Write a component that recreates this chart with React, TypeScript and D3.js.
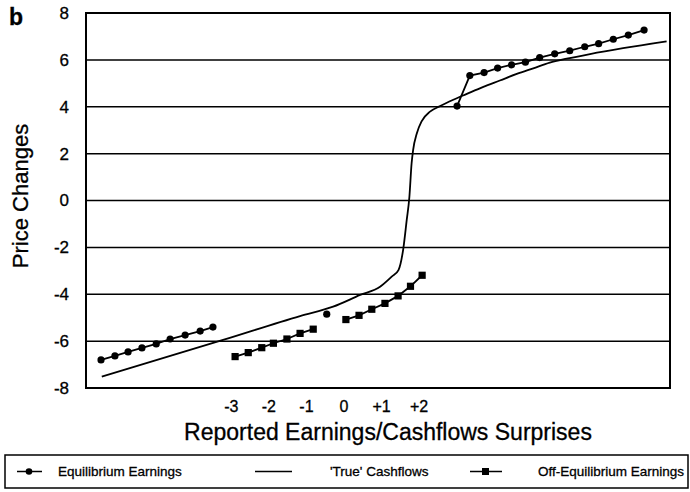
import React, { useRef, useEffect } from "react";
import * as d3 from "d3";

// x values are in "surprise" units, y values are price changes
const eqSurprise = [
  -6.47, -6.1, -5.75, -5.38, -5.0, -4.63, -4.23, -3.83, -3.49, -3.3, -0.46, 2.8,
  3.01, 3.35, 3.73, 4.09, 4.46, 4.83, 5.21, 5.61, 6.01, 6.41, 6.78, 7.17, 7.57, 7.99,
];
const eqPrice: (number | null)[] = [
  -6.8, -6.63, -6.46, -6.29, -6.12, -5.91, -5.74, -5.57, -5.4, null, -4.85, null,
  4.03, 5.33, 5.46, 5.65, 5.79, 5.9, 6.1, 6.26, 6.39, 6.56, 6.69, 6.88, 7.06, 7.27,
];

const offEqSurprise = [
  -2.9, -2.55, -2.19, -1.88, -1.52, -1.17, -0.82, -0.4, 0.05, 0.4, 0.74, 1.09, 1.44,
  1.77, 2.08,
];
const offEqPrice: (number | null)[] = [
  -6.66, -6.49, -6.28, -6.09, -5.91, -5.67, -5.49, null, -5.08, -4.9, -4.64, -4.39,
  -4.07, -3.66, -3.19,
];

const trueSurprise = [
  -6.45, -3.22, -1.17, -0.29, 0.43, 0.96, 1.27, 1.45, 1.58, 1.67, 1.74, 1.8, 1.84,
  1.94, 2.07, 2.29, 2.56, 2.91, 3.27, 3.71, 4.15, 4.6, 5.04, 5.48, 5.93, 6.55, 7.43, 8.59,
];
const truePrice = [
  -7.51, -5.95, -4.93, -4.53, -4.03, -3.68, -3.25, -2.97, -2.04, -0.83, 0.14, 1.59,
  2.15, 2.87, 3.39, 3.79, 4.03, 4.3, 4.55, 4.85, 5.12, 5.4, 5.64, 5.88, 6.05, 6.25, 6.5, 6.79,
];

const yTicks = [8, 6, 4, 2, 0, -2, -4, -6, -8];
const gridValues = [6, 4, 2, 0, -2, -4, -6];
const xTicks = [-3, -2, -1, 0, 1, 2];
const xTickLabels = ["-3", "-2", "-1", "0", "+1", "+2"];

const W = 690;
const H = 492;
const FONT = "'Liberation Sans', Arial, sans-serif";

type Pt = { x: number; y: number | null };

const App: React.FC = () => {
  const svgRef = useRef<SVGSVGElement | null>(null);

  useEffect(() => {
    if (!svgRef.current) return;
    const svg = d3.select(svgRef.current);
    svg.selectAll("*").remove();

    const x = d3.scaleLinear().domain([-6.87, 8.68]).range([86, 670]);
    const y = d3.scaleLinear().domain([-8, 8]).range([388, 13]);

    // gridlines
    svg
      .selectAll(".grid")
      .data(gridValues)
      .enter()
      .append("line")
      .attr("x1", x(-6.87))
      .attr("x2", x(8.68))
      .attr("y1", (d) => y(d))
      .attr("y2", (d) => y(d))
      .attr("stroke", "#000")
      .attr("stroke-width", 1.5);

    // frame
    svg
      .append("rect")
      .attr("x", x(-6.87))
      .attr("y", y(8))
      .attr("width", x(8.68) - x(-6.87))
      .attr("height", y(-8) - y(8))
      .attr("fill", "none")
      .attr("stroke", "#000")
      .attr("stroke-width", 2);

    const txt = (sel: any) =>
      sel.style("font-family", FONT).style("stroke", "#000").style("stroke-width", 0.3);

    // y tick labels
    svg
      .selectAll(".ytick")
      .data(yTicks)
      .enter()
      .append("text")
      .attr("x", 69)
      .attr("y", (d) => y(d))
      .attr("dy", "0.35em")
      .attr("text-anchor", "end")
      .call(txt)
      .style("font-size", "17px")
      .text((d) => String(d));

    // x tick labels
    svg
      .selectAll(".xtick")
      .data(xTicks)
      .enter()
      .append("text")
      .attr("x", (d) => x(d))
      .attr("y", 412)
      .attr("text-anchor", "middle")
      .call(txt)
      .style("font-size", "16px")
      .text((d, i) => xTickLabels[i]);

    // titles
    svg
      .append("text")
      .attr("x", 388)
      .attr("y", 440)
      .attr("text-anchor", "middle")
      .call(txt)
      .style("font-size", "23px")
      .text("Reported Earnings/Cashflows Surprises");

    svg
      .append("text")
      .attr("transform", "translate(28,196) rotate(-90)")
      .attr("text-anchor", "middle")
      .call(txt)
      .style("font-size", "22px")
      .text("Price Changes");

    svg
      .append("text")
      .attr("x", 9)
      .attr("y", 25)
      .call(txt)
      .style("font-size", "23px")
      .style("font-weight", "bold")
      .text("b");

    const line = d3
      .line<Pt>()
      .defined((d) => d.y !== null)
      .x((d) => x(d.x))
      .y((d) => y(d.y as number));

    // 'True' cashflows
    const truePts: Pt[] = trueSurprise.map((s, i) => ({ x: s, y: truePrice[i] }));
    svg
      .append("path")
      .attr("d", line.curve(d3.curveMonotoneX)(truePts)!)
      .attr("fill", "none")
      .attr("stroke", "#000")
      .attr("stroke-width", 1.8);

    line.curve(d3.curveLinear);

    // off-equilibrium
    const offPts: Pt[] = offEqSurprise.map((s, i) => ({ x: s, y: offEqPrice[i] }));
    svg
      .append("path")
      .attr("d", line(offPts)!)
      .attr("fill", "none")
      .attr("stroke", "#000")
      .attr("stroke-width", 1.8);
    svg
      .selectAll(".offmark")
      .data(offPts.filter((d) => d.y !== null))
      .enter()
      .append("rect")
      .attr("x", (d) => x(d.x) - 3.6)
      .attr("y", (d) => y(d.y as number) - 3.6)
      .attr("width", 7.2)
      .attr("height", 7.2)
      .attr("fill", "#000");

    // equilibrium
    const eqPts: Pt[] = eqSurprise.map((s, i) => ({ x: s, y: eqPrice[i] }));
    svg
      .append("path")
      .attr("d", line(eqPts)!)
      .attr("fill", "none")
      .attr("stroke", "#000")
      .attr("stroke-width", 1.8);
    svg
      .selectAll(".eqmark")
      .data(eqPts.filter((d) => d.y !== null))
      .enter()
      .append("circle")
      .attr("cx", (d) => x(d.x))
      .attr("cy", (d) => y(d.y as number))
      .attr("r", 3.6)
      .attr("fill", "#000");

    // legend
    const lg = svg.append("g");
    lg.append("rect")
      .attr("x", 5)
      .attr("y", 455)
      .attr("width", 683)
      .attr("height", 33)
      .attr("fill", "#fff")
      .attr("stroke", "#000")
      .attr("stroke-width", 1.5);
    const ly = 471.5;
    lg.append("line").attr("x1", 17).attr("x2", 42).attr("y1", ly).attr("y2", ly).attr("stroke", "#000").attr("stroke-width", 1.5);
    lg.append("circle").attr("cx", 29).attr("cy", ly).attr("r", 3.3).attr("fill", "#000");
    lg.append("line").attr("x1", 255).attr("x2", 292).attr("y1", ly).attr("y2", ly).attr("stroke", "#000").attr("stroke-width", 1.5);
    lg.append("line").attr("x1", 470).attr("x2", 502).attr("y1", ly).attr("y2", ly).attr("stroke", "#000").attr("stroke-width", 1.5);
    lg.append("rect").attr("x", 482).attr("y", ly - 3.5).attr("width", 7).attr("height", 7).attr("fill", "#000");

    const legendLabels = ["Equilibrium Earnings", "'True' Cashflows", "Off-Equilibrium Earnings"];
    const legendX = [58, 330, 538];
    lg.selectAll(".lgtext")
      .data(legendLabels)
      .enter()
      .append("text")
      .attr("x", (d, i) => legendX[i])
      .attr("y", ly)
      .attr("dy", "0.35em")
      .call(txt)
      .style("font-size", "13.5px")
      .text((d) => d);
  }, []);

  return (
    <svg
      ref={svgRef}
      width={W}
      height={H}
      style={{ position: "absolute", left: 0, top: 0, background: "#fff" }}
    ></svg>
  );
};

export default App;
